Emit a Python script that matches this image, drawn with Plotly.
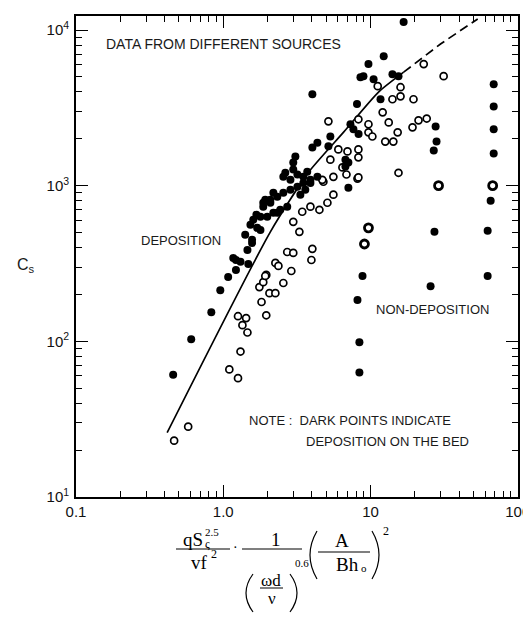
import plotly.graph_objects as go

# ---------------- data ----------------
filled_x = [0.457, 0.606, 0.83, 0.955, 1.08, 1.22, 1.22, 1.48, 1.57, 1.87,
            2.09, 2.33, 2.56, 2.86, 3.19, 3.50, 3.91, 4.36, 2.56, 3.19,
            3.72, 1.60, 1.70, 1.57, 1.99, 2.19, 2.44, 2.72, 2.19, 1.87,
            1.79, 2.09, 2.33, 1.17, 1.79, 2.64, 2.86, 3.50, 3.91, 3.09,
            2.99, 2.99, 4.03, 4.36, 4.03, 5.34, 5.18, 6.76, 7.08, 6.76,
            7.31, 7.66, 8.1, 7.08, 9.69, 8.96, 10.5, 8.55, 12.3, 14.1,
            15.5, 11.7, 16.8, 8.3, 1.41, 1.53, 1.68, 1.93, 3.34, 3.61,
            1.46, 1.31,
            8.83, 8.16, 8.41, 8.41,
            27.7, 28.1, 26.9, 27.2, 25.6,
            68.7, 68.7, 68.7, 68.7, 65.5, 62.5, 62.5]
filled_y = [61, 103, 154, 213, 259, 333, 287, 314, 429, 777,
            813, 849, 901, 942, 986, 1040, 1090, 1140, 1140, 1180,
            1230, 604, 536, 449, 631, 669, 700, 733, 901, 733,
            631, 777, 669, 343, 520, 1210, 1090, 1140, 1040, 1540,
            1410, 1270, 1760, 1890, 3870, 2070, 1790, 1470, 1410, 1330,
            2480, 2300, 3350, 971, 6040, 5050, 4830, 4970, 6790, 5200,
            5050, 3590, 11270, 2150, 483, 560, 650, 813, 875, 942,
            386, 324,
            263, 184, 98.6, 63,
            2400, 1920, 1680, 505, 226,
            4490, 3230, 2300, 1610, 800, 513, 263]

ring_x = [9.69, 9.10, 29.0, 67.6]
ring_y = [536, 422, 1000, 1000]

open_x = [0.464, 0.578, 1.26, 1.10, 1.31, 1.46, 1.35, 1.26, 1.43, 1.82,
          1.96, 1.76, 1.96, 1.87, 2.06, 2.26, 2.26, 2.37, 2.56, 2.72,
          2.99, 3.29, 2.99, 4.03, 3.97, 2.90, 1.93, 3.44, 3.91, 4.50,
          5.10, 5.60, 4.79, 5.60, 6.87, 8.16, 5.18, 8.28, 9.69, 9.69,
          10.3, 6.05, 6.98, 8.28, 8.28, 5.34, 6.45, 8.28, 4.71, 23.0,
          31.4, 19.6, 16.0, 16.0, 14.1, 12.1, 13.3, 19.3, 21.2, 24.1,
          15.3, 14.3, 12.6, 15.5, 11.2]
open_y = [23.0, 28.3, 58, 66, 86, 114, 127, 145, 141, 179,
          147, 223, 267, 240, 204, 204, 319, 305, 237, 375,
          586, 505, 370, 393, 333, 283, 263, 680, 733, 700,
          777, 875, 1060, 1140, 1180, 1110, 2590, 2670, 2480, 2200,
          2070, 1710, 1660, 1710, 1520, 1470, 1310, 1130, 1090, 6040,
          5050, 3590, 4290, 3750, 3590, 2960, 2550, 2370, 2630, 2700,
          2200, 1920, 1920, 1210, 4360]

curve_x = [0.416, 2.09, 3.78, 6.55, 11.3, 16.8]
curve_y = [25.9, 505, 1213, 2198, 3981, 5358]
dash_x = [16.8, 29.9, 53.5]
dash_y = [5358, 8130, 11780]

x_tickvals = [0.1, 1, 10, 100]
x_ticktext = ["0.1", "1.0", "10", "100"]
y_tickvals = [10, 100, 1000, 10000]
y_ticktext = ["10<sup>1</sup>", "10<sup>2</sup>", "10<sup>3</sup>", "10<sup>4</sup>"]
minor_x = [m * 10 ** k for k in (-1, 0, 1) for m in range(2, 10)]
minor_y = [m * 10 ** k for k in (1, 2, 3) for m in range(2, 10)]

# ---------------- layout geometry ----------------
W, H = 523, 618
L, R, T, B = 76, 518, 16, 497


def P(px, py):
    return (px - L) / (R - L), (B - py) / (B - T)


fig = go.Figure()
fig.add_trace(go.Scatter(x=curve_x, y=curve_y, mode="lines",
                         line=dict(color="black", width=1.7, shape="spline", smoothing=0.6),
                         showlegend=False))
fig.add_trace(go.Scatter(x=dash_x, y=dash_y, mode="lines",
                         line=dict(color="black", width=1.7, dash="9px,5px"),
                         showlegend=False))
fig.add_trace(go.Scatter(x=open_x, y=open_y, mode="markers",
                         marker=dict(size=7, color="white", line=dict(color="black", width=1.7)),
                         showlegend=False))
fig.add_trace(go.Scatter(x=ring_x, y=ring_y, mode="markers",
                         marker=dict(size=8, color="white", line=dict(color="black", width=2.8)),
                         showlegend=False))
fig.add_trace(go.Scatter(x=filled_x, y=filled_y, mode="markers",
                         marker=dict(size=8, color="black", line=dict(width=0)),
                         showlegend=False))

axis_common = dict(type="log", showgrid=False, zeroline=False, showline=True,
                   linecolor="black", linewidth=1.8, ticks="inside", ticklen=12,
                   tickwidth=1.2, tickcolor="black", mirror="allticks",
                   tickfont=dict(family="Liberation Sans", size=15, color="#111"),
                   automargin=False, ticklabeloverflow="allow")

fig.update_xaxes(**axis_common, range=[-1, 2.002], tickmode="array",
                 tickvals=x_tickvals, ticktext=x_ticktext,
                 minor=dict(ticks="inside", ticklen=6, tickwidth=1, tickcolor="black",
                            tickmode="array", tickvals=minor_x, showgrid=False))
fig.update_yaxes(**axis_common, range=[1, 4.09], tickmode="array",
                 tickvals=y_tickvals, ticktext=y_ticktext, ticklabelstandoff=2,
                 minor=dict(ticks="inside", ticklen=6, tickwidth=1, tickcolor="black",
                            tickmode="array", tickvals=minor_y, showgrid=False))

annotations = []
shapes = []


def text(px, py, s, size=13, family="Liberation Sans", xanchor="center", yanchor="middle", color="#1a1a1a"):
    x, y = P(px, py)
    annotations.append(dict(x=x, y=y, xref="paper", yref="paper", text=s, showarrow=False,
                            xanchor=xanchor, yanchor=yanchor, borderpad=0,
                            font=dict(family=family, size=size, color=color)))


def hline(x0, x1, y, w=1.2):
    a, b = P(x0, y)
    c, _ = P(x1, y)
    shapes.append(dict(type="line", xref="paper", yref="paper", x0=a, x1=c, y0=b, y1=b,
                       line=dict(color="black", width=w)))


def paren(x_end, x_bulge, y0, y1, w=1.2):
    xa, ya = P(x_end, y0)
    xc, ym = P(2 * x_bulge - x_end, (y0 + y1) / 2)
    xb, yb = P(x_end, y1)
    shapes.append(dict(type="path", xref="paper", yref="paper",
                       path=f"M {xa} {ya} Q {xc} {ym} {xb} {yb}",
                       line=dict(color="black", width=w)))


# in-plot labels
text(105, 44, "DATA FROM DIFFERENT SOURCES", size=14, xanchor="left")
text(140, 240, "DEPOSITION", size=13, xanchor="left")
text(375, 310, "NON-DEPOSITION", size=13, xanchor="left")
text(248, 420, "NOTE :  DARK POINTS INDICATE", size=13, xanchor="left")
text(305, 441, "DEPOSITION ON THE BED", size=13, xanchor="left")

# y axis title
text(26, 265, "C<sub>s</sub>", size=16)

# x axis title (formula)
serif = "Liberation Serif"
text(204, 539, "qS", size=19, family=serif, xanchor="right", color="black")
text(204, 544, "ς", size=12, family=serif, xanchor="left", color="black")
text(204, 532, "2.5", size=11, family=serif, xanchor="left", color="black")
hline(176, 230, 549)
text(209, 562, "vf", size=19, family=serif, xanchor="right", color="black")
text(210, 554, "2", size=12, family=serif, xanchor="left", color="black")
text(235, 547, "·", size=14, family=serif, color="black")
text(276, 539, "1", size=19, family=serif, color="black")
hline(242, 302, 549)
paren(253, 246, 574, 612)
text(271, 580, "ωd", size=17, family=serif, color="black")
hline(260, 283, 588, 1.0)
text(272, 598, "ν", size=17, family=serif, color="black")
paren(290, 297, 574, 612)
text(294, 563, "0.6", size=11, family=serif, xanchor="left", color="black")
paren(317, 310, 531, 579)
text(342, 540, "A", size=19, family=serif, color="black")
hline(318, 370, 552)
text(360, 564, "Bh", size=19, family=serif, xanchor="right", color="black")
text(360, 568, "o", size=11, family=serif, xanchor="left", color="black")
paren(372, 379, 531, 579)
text(382, 531, "2", size=12, family=serif, xanchor="left", color="black")

fig.update_layout(width=W, height=H, margin=dict(l=L, r=W - R, t=T, b=H - B),
                  paper_bgcolor="white", plot_bgcolor="white", template="none",
                  annotations=annotations, shapes=shapes, showlegend=False)

fig.write_html("out.html")
